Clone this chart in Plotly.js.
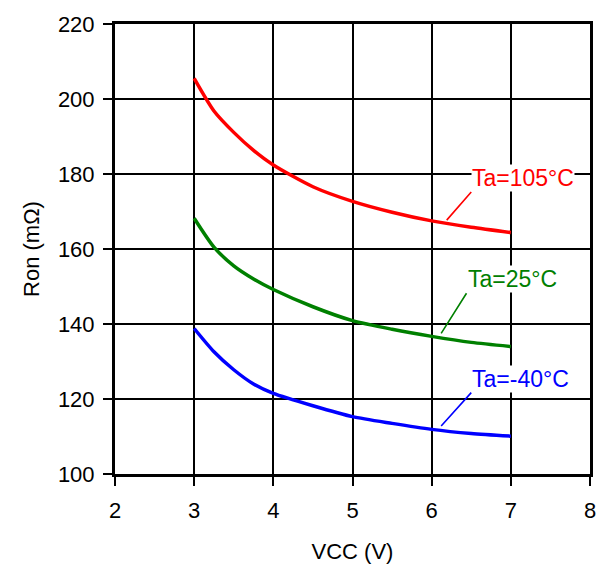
<!DOCTYPE html>
<html>
<head>
<meta charset="utf-8">
<script src="https://cdn.plot.ly/plotly-3.0.1.min.js"></script>
<style>html,body{margin:0;padding:0;background:#fff;}#chart{width:607px;height:571px;}</style>
</head>
<body>
<div id="chart"></div>
<script>
const vcc = [3, 3.25, 3.5, 3.75, 4, 4.5, 5, 5.5, 6, 6.5, 7];
const ron105 = [205.5, 196.8, 191.1, 186.3, 182.4, 176.6, 172.7, 169.8, 167.5, 165.8, 164.4];
const ron25 = [168.2, 160.5, 155.5, 152, 149.2, 144.6, 140.9, 138.6, 136.7, 135.1, 134];
const ronM40 = [138.8, 132.6, 127.8, 124, 121.5, 118.2, 115.3, 113.5, 111.9, 110.8, 110.1];
const seriesNames = ['Ta=105°C', 'Ta=25°C', 'Ta=-40°C'];
const colors = ['#ff0000', '#008000', '#0000ff'];
const xTicks = [2, 3, 4, 5, 6, 7, 8];
const yTicks = [100, 120, 140, 160, 180, 200, 220];
// label anchor (tail) and arrow tip in data units
const labelTail = [[6.5, 175.2], [6.44, 148.2], [6.5, 121.7]];
const labelTip = [[6.19, 167.7], [6.12, 137.5], [6.12, 112.8]];

const FONT = 'Liberation Sans, Arial, sans-serif';
const ys = [ron105, ron25, ronM40];
const traces = ys.map((y, i) => ({
  x: vcc, y: y, type: 'scatter', mode: 'lines', name: seriesNames[i],
  line: {color: colors[i], width: 3.5, shape: 'spline', smoothing: 0.7},
  showlegend: false, hoverinfo: 'skip'
}));

const annotations = seriesNames.map((t, i) => ({
  x: labelTip[i][0], y: labelTip[i][1], xref: 'x', yref: 'y',
  ax: labelTail[i][0], ay: labelTail[i][1], axref: 'x', ayref: 'y',
  text: t, showarrow: true, arrowhead: 0, arrowwidth: 1.6, arrowcolor: colors[i],
  xanchor: 'left', yanchor: 'bottom', bgcolor: '#ffffff', borderpad: 0,
  font: {family: FONT, size: 23, color: colors[i]}
}));

const axisCommon = {
  showline: true, linecolor: '#000', linewidth: 3, mirror: true,
  showgrid: true, gridcolor: '#000', gridwidth: 2, zeroline: false,
  ticks: 'outside', ticklen: 9, tickwidth: 2, tickcolor: '#000',
  tickfont: {family: FONT, size: 22, color: '#000'}
};

const layout = {
  width: 607, height: 571,
  margin: {l: 115, r: 17, t: 24, b: 97},
  paper_bgcolor: '#fff', plot_bgcolor: '#fff',
  xaxis: Object.assign({}, axisCommon, {
    range: [2, 8], tickvals: xTicks, ticktext: xTicks.map(String),
    ticklabelstandoff: 6,
    title: {text: 'VCC (V)', standoff: 22, font: {family: FONT, size: 22, color: '#000'}}
  }),
  yaxis: Object.assign({}, axisCommon, {
    range: [100, 220], tickvals: yTicks, ticktext: yTicks.map(String),
    ticklabelstandoff: 4,
    title: {text: 'Ron (mΩ)', standoff: 13, font: {family: FONT, size: 22, color: '#000'}}
  }),
  annotations: annotations,
  showlegend: false
};

Plotly.newPlot('chart', traces, layout, {displayModeBar: false, staticPlot: true});
</script>
</body>
</html>
